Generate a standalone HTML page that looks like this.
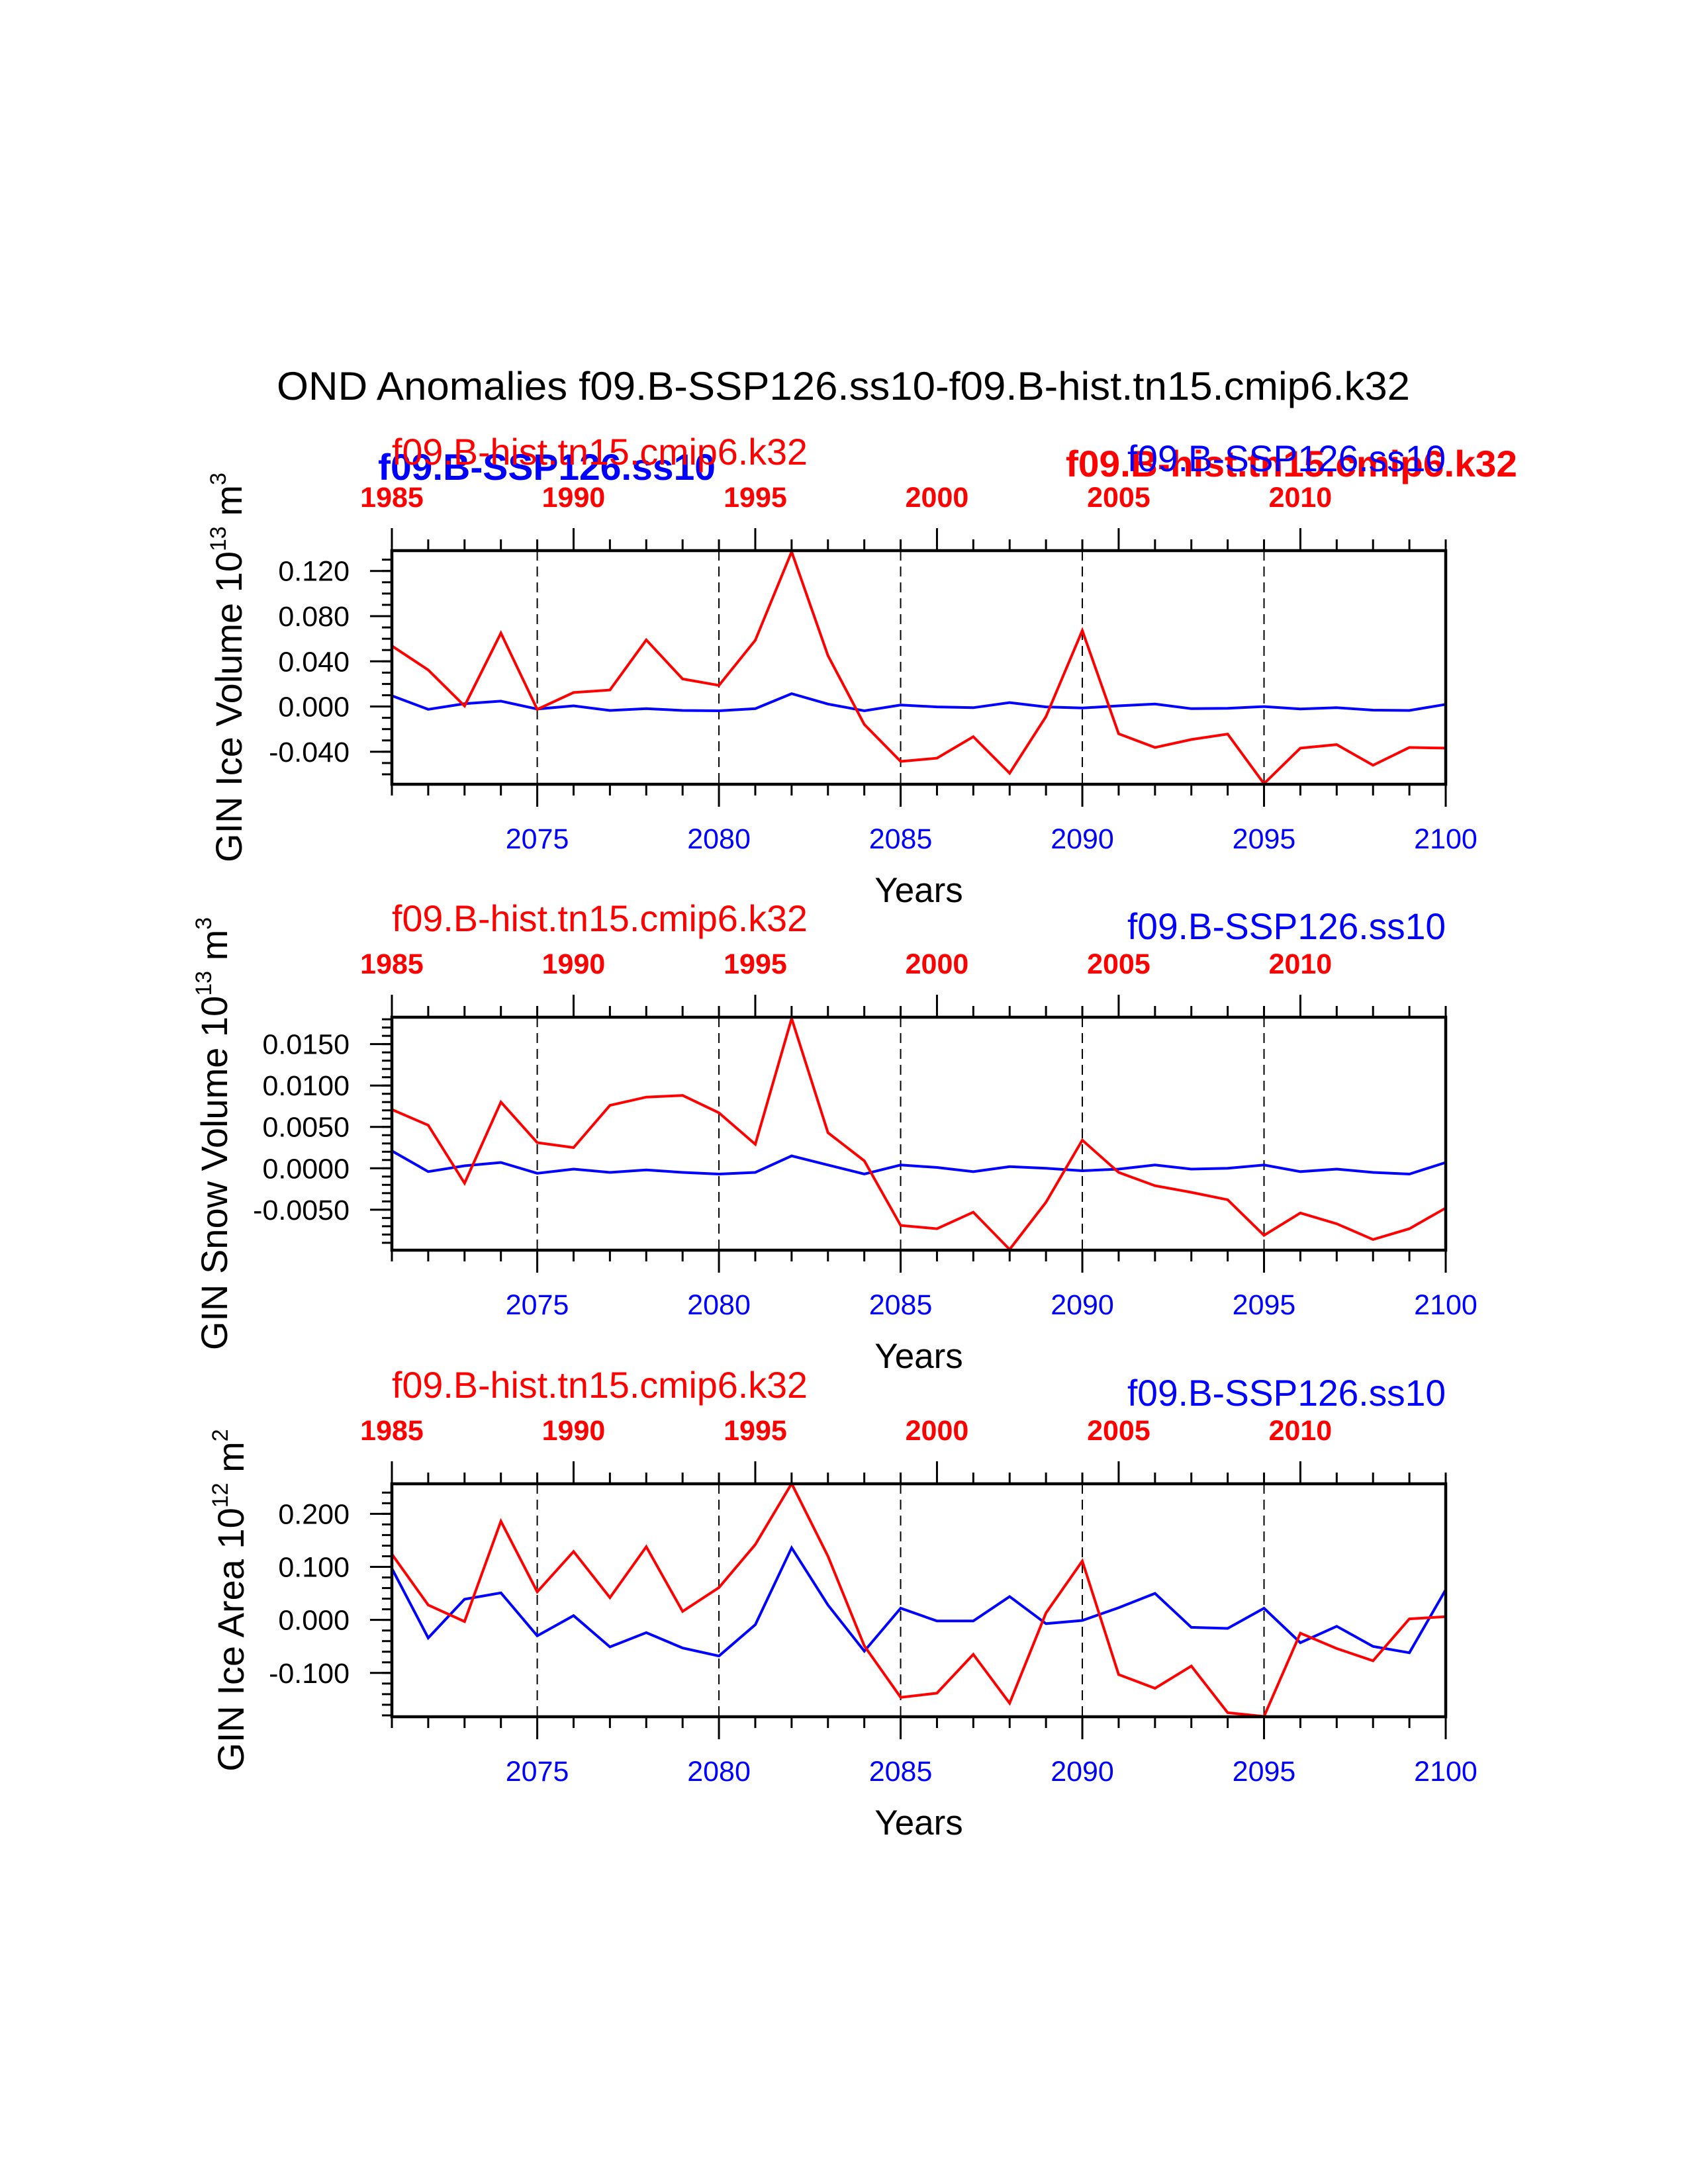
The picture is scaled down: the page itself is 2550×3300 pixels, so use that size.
<!DOCTYPE html>
<html><head><meta charset="utf-8"><style>
html,body{margin:0;padding:0;background:#fff;}
svg{display:block;font-family:"Liberation Sans",sans-serif;}
</style></head><body>
<svg id="chart" width="2550" height="3300" viewBox="0 0 2550 3300" xmlns="http://www.w3.org/2000/svg">
<text x="1274" y="604" font-size="60" text-anchor="middle" textLength="1712" lengthAdjust="spacingAndGlyphs">OND Anomalies f09.B-SSP126.ss10-f09.B-hist.tn15.cmip6.k32</text>
<g id="panels"></g>
</svg>
<script>
const years = [2071,2072,2073,2074,2075,2076,2077,2078,2079,2080,2081,2082,2083,2084,2085,2086,2087,2088,2089,2090,2091,2092,2093,2094,2095,2096,2097,2098,2099,2100];
const bottomTickLabels = ["2075","2080","2085","2090","2095","2100"];
const topTickLabels = ["1985","1990","1995","2000","2005","2010"];
const iceVolRed = [0.0537,0.0324,0.0005,0.065,-0.0025,0.0124,0.0146,0.059,0.0244,0.0187,0.0587,0.137,0.045,-0.0159,-0.0486,-0.0457,-0.0267,-0.059,-0.0089,0.0673,-0.0241,-0.0362,-0.0292,-0.0244,-0.0683,-0.0368,-0.0337,-0.052,-0.0362,-0.0368];
const iceVolBlue = [0.0095,-0.0025,0.0025,0.0048,-0.0022,0.0006,-0.0035,-0.0019,-0.0035,-0.0038,-0.0019,0.0114,0.0022,-0.0038,0.0013,-0.0003,-0.001,0.0035,-0.0003,-0.0013,0.0006,0.0022,-0.0019,-0.0016,0,-0.0022,-0.001,-0.0032,-0.0035,0.0019];
const snowVolRed = [0.0071,0.0052,-0.0018,0.008,0.0031,0.0025,0.0076,0.0086,0.0088,0.0067,0.0029,0.0181,0.0043,0.0009,-0.0069,-0.0073,-0.0053,-0.0098,-0.0041,0.0034,-0.0005,-0.0021,-0.0029,-0.0038,-0.0081,-0.0054,-0.0067,-0.0086,-0.0073,-0.0048];
const snowVolBlue = [0.0021,-0.0004,0.0003,0.0007,-0.0006,-0.0001,-0.0005,-0.0002,-0.0005,-0.0007,-0.0005,0.0015,0.0004,-0.0007,0.0004,0.0001,-0.0004,0.0002,0,-0.0003,-0.0001,0.0004,-0.0001,0,0.0004,-0.0004,-0.0001,-0.0005,-0.0007,0.0007];
const iceAreaRed = [0.124,0.028,-0.003,0.186,0.053,0.129,0.042,0.138,0.016,0.061,0.142,0.257,0.120,-0.049,-0.146,-0.138,-0.065,-0.157,0.013,0.111,-0.103,-0.129,-0.087,-0.175,-0.182,-0.025,-0.054,-0.077,0.002,0.006];
const iceAreaBlue = [0.097,-0.034,0.039,0.051,-0.030,0.008,-0.051,-0.024,-0.053,-0.068,-0.009,0.136,0.028,-0.059,0.022,-0.002,-0.002,0.044,-0.007,-0.001,0.023,0.050,-0.014,-0.016,0.022,-0.043,-0.012,-0.050,-0.062,0.057];
const iceVolTicks = [-0.04,0,0.04,0.08,0.12];
const iceVolTickLabels = ["-0.040","0.000","0.040","0.080","0.120"];
const snowVolTicks = [-0.005,0,0.005,0.01,0.015];
const snowVolTickLabels = ["-0.0050","0.0000","0.0050","0.0100","0.0150"];
const iceAreaTicks = [-0.1,0,0.1,0.2];
const iceAreaTickLabels = ["-0.100","0.000","0.100","0.200"];

const NS = "http://www.w3.org/2000/svg";
const root = document.getElementById('panels');
function mk(tag, attrs, parent, text){
  const e = document.createElementNS(NS, tag);
  for (const k in attrs) e.setAttribute(k, attrs[k]);
  if (text !== undefined) e.textContent = text;
  (parent || root).appendChild(e);
  return e;
}
const X0 = 592, X1 = 2184;
function xs(yr){ return X0 + (yr - 2071) * (X1 - X0) / 29; }

function panel(cfg){
  const g = mk('g', {});
  
  
  const top = cfg.top, bot = cfg.bot;
  const ys = v => top + (cfg.vmax - v) * (bot - top) / (cfg.vmax - cfg.vmin);
  [2075,2080,2085,2090,2095].forEach(yr => {
    const l = mk('line', {x1:xs(yr), x2:xs(yr), y1:top, y2:bot, stroke:'#000', 'stroke-width':2, 'stroke-dasharray':'15,9'}, g);
    
    
  });
  const series = [[cfg.blue,'#0000ff','blue-series'],[cfg.red,'#ff0000','red-series']];
  series.forEach(s => {
    const pts = years.map((yr,i) => xs(yr).toFixed(1) + ',' + ys(s[0][i]).toFixed(1)).join(' ');
    const p = mk('polyline', {points:pts, fill:'none', stroke:s[1], 'stroke-width':4, 'stroke-linejoin':'miter'}, g);
    
    
  });
  const fr = mk('rect', {x:X0, y:top, width:X1-X0, height:bot-top, fill:'none', stroke:'#000', 'stroke-width':4.5}, g);
  
  
  years.forEach(yr => {
    const major = (yr - 2071) % 5 === 4 || yr === 2100;
    mk('line', {x1:xs(yr), x2:xs(yr), y1:bot, y2:bot + (major ? 34 : 17), stroke:'#000', 'stroke-width':3}, g);
    const topMajor = (yr - 2071) % 5 === 0;
    mk('line', {x1:xs(yr), x2:xs(yr), y1:top, y2:top - (topMajor ? 34 : 17), stroke:'#000', 'stroke-width':3}, g);
  });
  bottomTickLabels.forEach(lbl => {
    const t = mk('text', {x:xs(+lbl), y:bot + 97, 'font-size':43, fill:'#0000ff', 'text-anchor':'middle'}, g, lbl);
    
    
  });
  topTickLabels.forEach((lbl,i) => {
    const t = mk('text', {x:xs(2071 + 5*i), y:top - 66, 'font-size':43, 'font-weight':'bold', fill:'#ff0000', 'text-anchor':'middle'}, g, lbl);
    
    
  });
  const mStart = Math.ceil(cfg.vmin / cfg.minor - 1e-9);
  for (let k = mStart; k * cfg.minor <= cfg.vmax + 1e-12; k++) {
    const y = ys(k * cfg.minor);
    mk('line', {x1:X0, x2:X0 - 15, y1:y, y2:y, stroke:'#000', 'stroke-width':3}, g);
  }
  cfg.ticks.forEach((v,i) => {
    const y = ys(v);
    mk('line', {x1:X0, x2:X0 - 33, y1:y, y2:y, stroke:'#000', 'stroke-width':3}, g);
    const t = mk('text', {x:528, y:y + 15, 'font-size':43, 'text-anchor':'end'}, g, cfg.tickLabels[i]);
    
    
  });
  const cy = (top + bot) / 2;
  const yt = mk('text', {x:0, y:0, 'font-size':56, 'text-anchor':'middle', transform:'translate(' + cfg.ylx + ',' + cy + ') rotate(-90)'}, g);
  
  
  mk('tspan', {}, yt, cfg.ylabel + ' 10');
  mk('tspan', {'font-size':34, dy:-24}, yt, cfg.exp);
  mk('tspan', {dy:24}, yt, '\u00a0m');
  mk('tspan', {'font-size':34, dy:-24}, yt, cfg.unitExp);
  const xt = mk('text', {x:1388, y:bot + 178, 'font-size':53, 'text-anchor':'middle'}, g, 'Years');
  
  
  return {g, top};
}

const p1 = panel({name:'ice-volume-panel', top:832, bot:1185, vmin:-0.0688, vmax:0.138, minor:0.01, ticks:iceVolTicks, tickLabels:iceVolTickLabels, red:iceVolRed, blue:iceVolBlue, ylabel:'GIN Ice Volume', exp:'13', unitExp:'3', ylx:365});
const p2 = panel({name:'snow-volume-panel', top:1537, bot:1889, vmin:-0.00989, vmax:0.01825, minor:0.001, ticks:snowVolTicks, tickLabels:snowVolTickLabels, red:snowVolRed, blue:snowVolBlue, ylabel:'GIN Snow Volume', exp:'13', unitExp:'3', ylx:343});
const p3 = panel({name:'ice-area-panel', top:2242, bot:2594, vmin:-0.1826, vmax:0.2566, minor:0.02, ticks:iceAreaTicks, tickLabels:iceAreaTickLabels, red:iceAreaRed, blue:iceAreaBlue, ylabel:'GIN Ice Area', exp:'12', unitExp:'2', ylx:368});

function label(txt, x, y, w, color, bold, size, name){
  const t = mk('text', {x:x, y:y, 'font-size':size, fill:color, textLength:w, lengthAdjust:'spacingAndGlyphs'}, root, txt);
  if (bold) t.setAttribute('font-weight', 'bold');
  
  
}
label('f09.B-SSP126.ss10', 571, 725, 510, '#0000ff', true, 56, 'left-blue-bold-label');
label('f09.B-hist.tn15.cmip6.k32', 592, 702, 628, '#ff0000', false, 56, 'left-red-label');
label('f09.B-hist.tn15.cmip6.k32', 1610, 720, 682, '#ff0000', true, 56, 'right-red-bold-label');
label('f09.B-SSP126.ss10', 1703, 712, 481, '#0000ff', false, 56, 'right-blue-label');
label('f09.B-hist.tn15.cmip6.k32', 592, 1407, 628, '#ff0000', false, 56, 'snow-red-label');
label('f09.B-SSP126.ss10', 1703, 1419, 481, '#0000ff', false, 56, 'snow-blue-label');
label('f09.B-hist.tn15.cmip6.k32', 592, 2112, 628, '#ff0000', false, 56, 'area-red-label');
label('f09.B-SSP126.ss10', 1703, 2124, 481, '#0000ff', false, 56, 'area-blue-label');
</script>
</body></html>
